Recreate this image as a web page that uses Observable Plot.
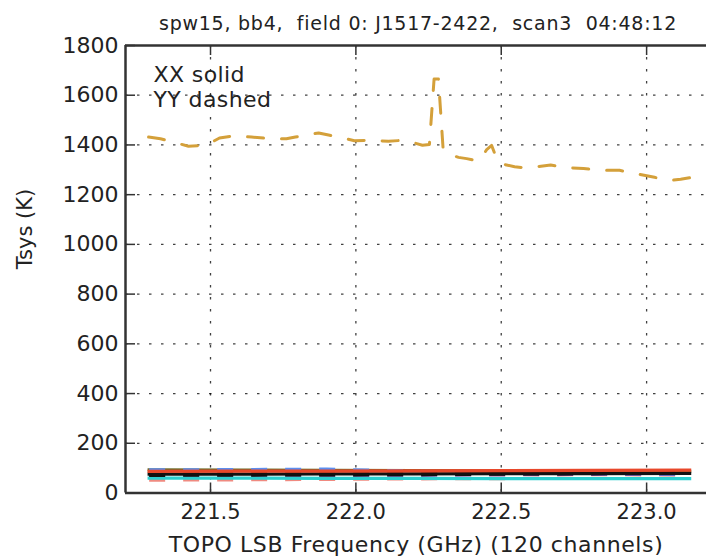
<!DOCTYPE html>
<html><head><meta charset="utf-8">
<script src="https://cdn.jsdelivr.net/npm/d3@7"></script>
<script src="https://cdn.jsdelivr.net/npm/@observablehq/plot@0.6"></script>
<style>
html,body{margin:0;padding:0;background:#fff;overflow:hidden;}
</style></head><body><div id="chart"></div>
<script>
// ---- text ----
const titleText = "spw15, bb4,  field 0: J1517-2422,  scan3  04:48:12";
const xLabel = "TOPO LSB Frequency (GHz) (120 channels)";
const yLabel = "Tsys (K)";
const legendLines = ["XX solid", "YY dashed"];

// ---- scales / ticks ----
const xTicks = [221.5, 222.0, 222.5, 223.0];
const yTicks = [0, 200, 400, 600, 800, 1000, 1200, 1400, 1600, 1800];
const xDomain = [221.2076, 223.206];
const yDomain = [0, 1800];

// ---- high YY (dashed, gold) ----
const yyFreq = [221.287, 221.328, 221.369, 221.424, 221.466, 221.490, 221.531, 221.569, 221.641, 221.706,
  221.761, 221.792, 221.830, 221.872, 221.906, 221.947, 221.995, 222.054, 222.112, 222.154,
  222.188, 222.229, 222.253, 222.269, 222.284, 222.300, 222.315, 222.332, 222.353, 222.381,
  222.418, 222.436, 222.449, 222.467, 222.484, 222.498, 222.546, 222.580, 222.611, 222.670,
  222.732, 222.783, 222.849, 222.907, 222.969, 223.027, 223.055, 223.089, 223.117, 223.148];
const yyTsys = [1432, 1425, 1412, 1395, 1397, 1402, 1428, 1435, 1432, 1425,
  1425, 1432, 1440, 1448, 1440, 1430, 1417, 1418, 1415, 1418,
  1412, 1399, 1402, 1665, 1665, 1385, 1362, 1358, 1350, 1345,
  1336, 1355, 1380, 1398, 1345, 1325, 1312, 1308, 1311, 1319,
  1308, 1305, 1298, 1298, 1283, 1270, 1262, 1258, 1262, 1268];

// ---- low-Tsys antennas ----
const lowFreq = [221.289, 221.6, 221.9, 222.2, 222.5, 222.8, 223.148];
const oliveXX  = [93, 92, 91, 90, 89, 88, 87];
const blueYY   = [93, 94, 96, 88, 80, 76, 74];
const purpleYY = [67, 68, 69, 71, 73, 75, 77];
const pinkYY   = [52, 53, 55, 57, 58, 59, 60];
const cyanXX   = [60, 60, 59, 59, 58, 58, 58];
const redYY    = [80, 80, 81, 82, 83, 84, 85];
const blackYY  = [71, 72, 73, 74, 76, 78, 80];
const blackXX  = [76, 76, 77, 77, 78, 78, 79];
const redXX    = [87, 88, 88, 89, 90, 91, 92];

// styles (kept separate from data)
const lowStyle = [
  [oliveXX, "#6b6b2a", "XX"],
  [blueYY, "#5b8def", "YY"],
  [purpleYY, "#8a4fa0", "YY"],
  [pinkYY, "#f08a80", "YY"],
  [cyanXX, "#2ccfd0", "XX"],
  [redYY, "#e8472a", "YY"],
  [blackYY, "#111111", "YY"],
  [blackXX, "#111111", "XX"],
  [redXX, "#e8472a", "XX"]
];

const W = 706, H = 558, mL = 125, mR = 0, mT = 45, mB = 65.5;
const plotW = W - mL - mR, plotH = H - mT - mB;
const dash = "16,18";
const fontMain = "'DejaVu Sans', 'Liberation Sans', sans-serif";

const lowMarks = lowStyle.map(([vals, color, pol]) =>
  Plot.line(lowFreq.map((f, i) => ({f, t: vals[i]})), {
    x: "f", y: "t", stroke: color, strokeWidth: 3.2,
    strokeDasharray: pol === "YY" ? dash : null,
    strokeLinecap: pol === "YY" ? "butt" : "square"
  })
);

const yyRows = yyFreq.map((f, i) => ({f, t: yyTsys[i]}));
const gridStyle = {stroke: "#000", strokeWidth: 1.3, strokeDasharray: "2.5,9.5", strokeOpacity: 0.75};
const spine = {stroke: "#333", strokeWidth: 2.5};
const tickStyle = {stroke: "#333", strokeWidth: 1.5};

const chart = Plot.plot({
  width: W, height: H,
  marginLeft: mL, marginRight: mR, marginTop: mT, marginBottom: mB,
  x: {domain: xDomain, axis: null},
  y: {domain: yDomain, axis: null},
  style: {fontFamily: fontMain, background: "#fff", overflow: "visible", color: "#222"},
  marks: [
    Plot.ruleX(xTicks, {x: d => d, ...gridStyle}),
    Plot.ruleY(yTicks.filter(v => v > yDomain[0] && v < yDomain[1]), {y: d => d, ...gridStyle}),
    ...lowMarks,
    Plot.line(yyRows, {x: "f", y: "t", stroke: "#d4a03a", strokeWidth: 3, strokeDasharray: dash}),
    // spines
    Plot.ruleY([yDomain[0]], {y: d => d, ...spine}),
    Plot.ruleY([yDomain[1]], {y: d => d, ...spine}),
    Plot.ruleX([xDomain[0]], {x: d => d, ...spine}),
    // inward ticks
    Plot.tickX(xTicks, {x: d => d, insetTop: plotH - 10, ...tickStyle}),
    Plot.tickX(xTicks, {x: d => d, insetBottom: plotH - 10, ...tickStyle}),
    Plot.tickY(yTicks, {y: d => d, insetRight: plotW - 10, ...tickStyle}),
    // tick labels
    Plot.axisX({ticks: xTicks, tickSize: 0, tickPadding: 11, tickFormat: d3.format(".1f"), fontSize: 21, label: null, anchor: "bottom"}),
    Plot.axisY({ticks: yTicks, tickSize: 0, tickPadding: 7, tickFormat: d => String(d), fontSize: 22, label: null, anchor: "left"}),
    // labels
    Plot.text([xLabel], {text: d => d, frameAnchor: "bottom", dy: 59, fontSize: 22, fill: "#222"}),
    Plot.text([yLabel], {text: d => d, frameAnchor: "left", dx: -100, rotate: -90, fontSize: 21, fill: "#222"}),
    Plot.text([titleText], {text: d => d, frameAnchor: "top", dy: -29, dx: 2, fontSize: 19, fill: "#222"}),
    Plot.text([legendLines[0]], {text: d => d, frameAnchor: "top-left", textAnchor: "start", dx: 28, dy: 21, fontSize: 22, fill: "#222"}),
    Plot.text([legendLines[1]], {text: d => d, frameAnchor: "top-left", textAnchor: "start", dx: 28, dy: 46, fontSize: 22, fill: "#222"})
  ]
});
// slight horizontal widening of the text, as in the reference rendering
d3.select(chart).selectAll("text").each(function() {
  const t = this.textContent;
  if (t === titleText) this.setAttribute("letter-spacing", "0.75");
  else if (t === xLabel) this.setAttribute("letter-spacing", "0.6");
  else if (legendLines.includes(t)) this.setAttribute("letter-spacing", "0.4");
});
document.getElementById("chart").appendChild(chart);
</script></body></html>
